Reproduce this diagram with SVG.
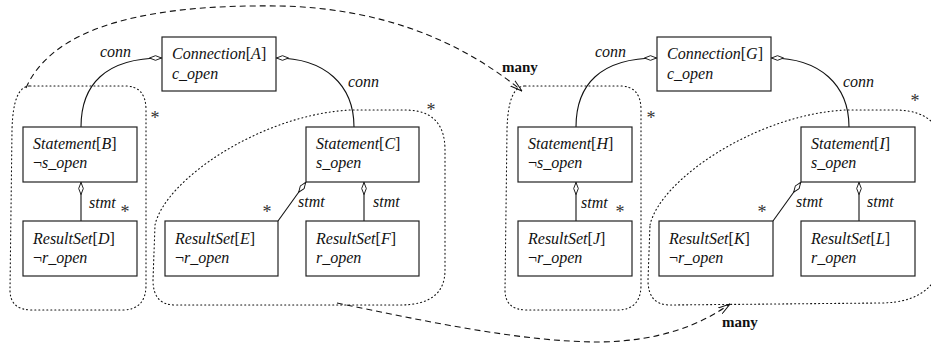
<svg xmlns="http://www.w3.org/2000/svg" width="931" height="343" viewBox="0 0 931 343">
<style>
.box{fill:#fff;stroke:#222;stroke-width:1.2}
.t{font-family:"Liberation Serif",serif;font-size:16px;font-style:italic;fill:#111}
.n{font-style:normal}
.lbl{font-family:"Liberation Serif",serif;font-size:16px;font-style:italic;fill:#111}
.star{font-family:"Liberation Serif",serif;font-size:18px;fill:#333;text-anchor:middle}
.many{font-family:"Liberation Serif",serif;font-size:15px;font-weight:bold;fill:#111}
.ln{fill:none;stroke:#111;stroke-width:1.1}
.dot{fill:none;stroke:#111;stroke-width:1.1;stroke-dasharray:1 3;stroke-linecap:round}
.dash{fill:none;stroke:#111;stroke-width:1.1;stroke-dasharray:6 4}
</style>
<defs>
<marker id="dia" viewBox="0 0 14 6" refX="14" refY="3" markerWidth="13" markerHeight="6" markerUnits="userSpaceOnUse" orient="auto">
<path d="M0.5,3 L7,0.5 L13.5,3 L7,5.5 Z" fill="#fff" stroke="#111" stroke-width="1"/>
</marker>
<marker id="arr" viewBox="0 0 12 8" refX="12" refY="4" markerWidth="12" markerHeight="8" markerUnits="userSpaceOnUse" orient="auto">
<path d="M0,0.5 L12,4 L0,7.5" fill="none" stroke="#111" stroke-width="1"/>
</marker>
</defs>

<g id="regions">
<path class="dot" d="M30,86 L125,86 Q146,86 146,110 L146,285 Q146,310 122,310 L32,310 Q10,310 10,290 L12,130 Q13,86 30,86 Z"/>
<path class="dot" d="M155,225 C165,180 260,115 350,110 L405,110 Q445,110 445,150 L445,270 Q445,305 400,305 L175,305 Q153,305 153,280 Z"/>
<path class="dot" d="M525,86 L620,86 Q641,86 641,110 L641,285 Q641,310 617,310 L527,310 Q505,310 505,290 L507,130 Q508,86 525,86 Z"/>
<path class="dot" d="M650,225 C660,180 755,115 845,110 L895,110 Q945,110 945,160 L945,240 Q945,303 880,303 L670,305 Q648,305 648,280 Z"/>
</g>

<g id="connectors">
<path class="ln" d="M81,127 C81,85 105,58 162,58" marker-end="url(#dia)"/>
<path class="ln" d="M354,127 C354,85 325,58 276,58" marker-end="url(#dia)"/>
<path class="ln" d="M81,221 L81,182" marker-end="url(#dia)"/>
<path class="ln" d="M278,221 L306,182" marker-end="url(#dia)"/>
<path class="ln" d="M364,221 L364,182" marker-end="url(#dia)"/>
<path class="ln" d="M576,127 C576,85 600,58 657,58" marker-end="url(#dia)"/>
<path class="ln" d="M849,127 C849,85 820,58 771,58" marker-end="url(#dia)"/>
<path class="ln" d="M576,221 L576,182" marker-end="url(#dia)"/>
<path class="ln" d="M773,221 L801,182" marker-end="url(#dia)"/>
<path class="ln" d="M859,221 L859,182" marker-end="url(#dia)"/>
<path class="dash" d="M26,88 C60,10 200,5 280,6 C380,8 460,40 522,91" marker-end="url(#arr)"/>
<path class="dash" d="M337,303 C420,320 520,342 600,342 C660,341 700,325 730,304" marker-end="url(#arr)"/>
<text class="lbl" x="100" y="57">conn</text>
<text class="lbl" x="348" y="87">conn</text>
<text class="lbl" x="89" y="208">stmt</text>
<text class="lbl" x="298" y="207">stmt</text>
<text class="lbl" x="373" y="207">stmt</text>
<text class="lbl" x="595" y="57">conn</text>
<text class="lbl" x="843" y="87">conn</text>
<text class="lbl" x="581" y="208">stmt</text>
<text class="lbl" x="796" y="207">stmt</text>
<text class="lbl" x="867" y="207">stmt</text>
<text class="many" x="502" y="72">many</text>
<text class="many" x="722" y="327">many</text>
<text class="star" x="155" y="124">*</text>
<text class="star" x="431" y="116">*</text>
<text class="star" x="125" y="218">*</text>
<text class="star" x="267" y="218">*</text>
<text class="star" x="651" y="124">*</text>
<text class="star" x="915" y="107">*</text>
<text class="star" x="620" y="218">*</text>
<text class="star" x="762" y="218">*</text>
</g>

<g id="nodeA"><rect class="box" x="162" y="37" width="114" height="54"/>
<text class="t" x="172" y="59">Connection<tspan class="n">[</tspan>A<tspan class="n">]</tspan></text>
<text class="t" x="172" y="79">c_open</text></g>
<g id="nodeB"><rect class="box" x="23" y="127" width="114" height="55"/>
<text class="t" x="33" y="149">Statement<tspan class="n">[</tspan>B<tspan class="n">]</tspan></text>
<text class="t" x="33" y="168"><tspan class="n">¬</tspan>s_open</text></g>
<g id="nodeC"><rect class="box" x="306" y="127" width="113" height="55"/>
<text class="t" x="316" y="149">Statement<tspan class="n">[</tspan>C<tspan class="n">]</tspan></text>
<text class="t" x="316" y="168">s_open</text></g>
<g id="nodeD"><rect class="box" x="23" y="221" width="114" height="55"/>
<text class="t" x="33" y="244">ResultSet<tspan class="n">[</tspan>D<tspan class="n">]</tspan></text>
<text class="t" x="33" y="263"><tspan class="n">¬</tspan>r_open</text></g>
<g id="nodeE"><rect class="box" x="165" y="221" width="113" height="55"/>
<text class="t" x="175" y="244">ResultSet<tspan class="n">[</tspan>E<tspan class="n">]</tspan></text>
<text class="t" x="175" y="263"><tspan class="n">¬</tspan>r_open</text></g>
<g id="nodeF"><rect class="box" x="306" y="221" width="113" height="55"/>
<text class="t" x="316" y="244">ResultSet<tspan class="n">[</tspan>F<tspan class="n">]</tspan></text>
<text class="t" x="316" y="263">r_open</text></g>

<g id="nodeG"><rect class="box" x="657" y="37" width="114" height="54"/>
<text class="t" x="667" y="59">Connection<tspan class="n">[</tspan>G<tspan class="n">]</tspan></text>
<text class="t" x="667" y="79">c_open</text></g>
<g id="nodeH"><rect class="box" x="518" y="127" width="114" height="55"/>
<text class="t" x="528" y="149">Statement<tspan class="n">[</tspan>H<tspan class="n">]</tspan></text>
<text class="t" x="528" y="168"><tspan class="n">¬</tspan>s_open</text></g>
<g id="nodeI"><rect class="box" x="801" y="127" width="114" height="55"/>
<text class="t" x="811" y="149">Statement<tspan class="n">[</tspan>I<tspan class="n">]</tspan></text>
<text class="t" x="811" y="168">s_open</text></g>
<g id="nodeJ"><rect class="box" x="518" y="221" width="114" height="55"/>
<text class="t" x="528" y="244">ResultSet<tspan class="n">[</tspan>J<tspan class="n">]</tspan></text>
<text class="t" x="528" y="263"><tspan class="n">¬</tspan>r_open</text></g>
<g id="nodeK"><rect class="box" x="659" y="221" width="114" height="55"/>
<text class="t" x="669" y="244">ResultSet<tspan class="n">[</tspan>K<tspan class="n">]</tspan></text>
<text class="t" x="669" y="263"><tspan class="n">¬</tspan>r_open</text></g>
<g id="nodeL"><rect class="box" x="801" y="221" width="114" height="55"/>
<text class="t" x="811" y="244">ResultSet<tspan class="n">[</tspan>L<tspan class="n">]</tspan></text>
<text class="t" x="811" y="263">r_open</text></g>
</svg>
